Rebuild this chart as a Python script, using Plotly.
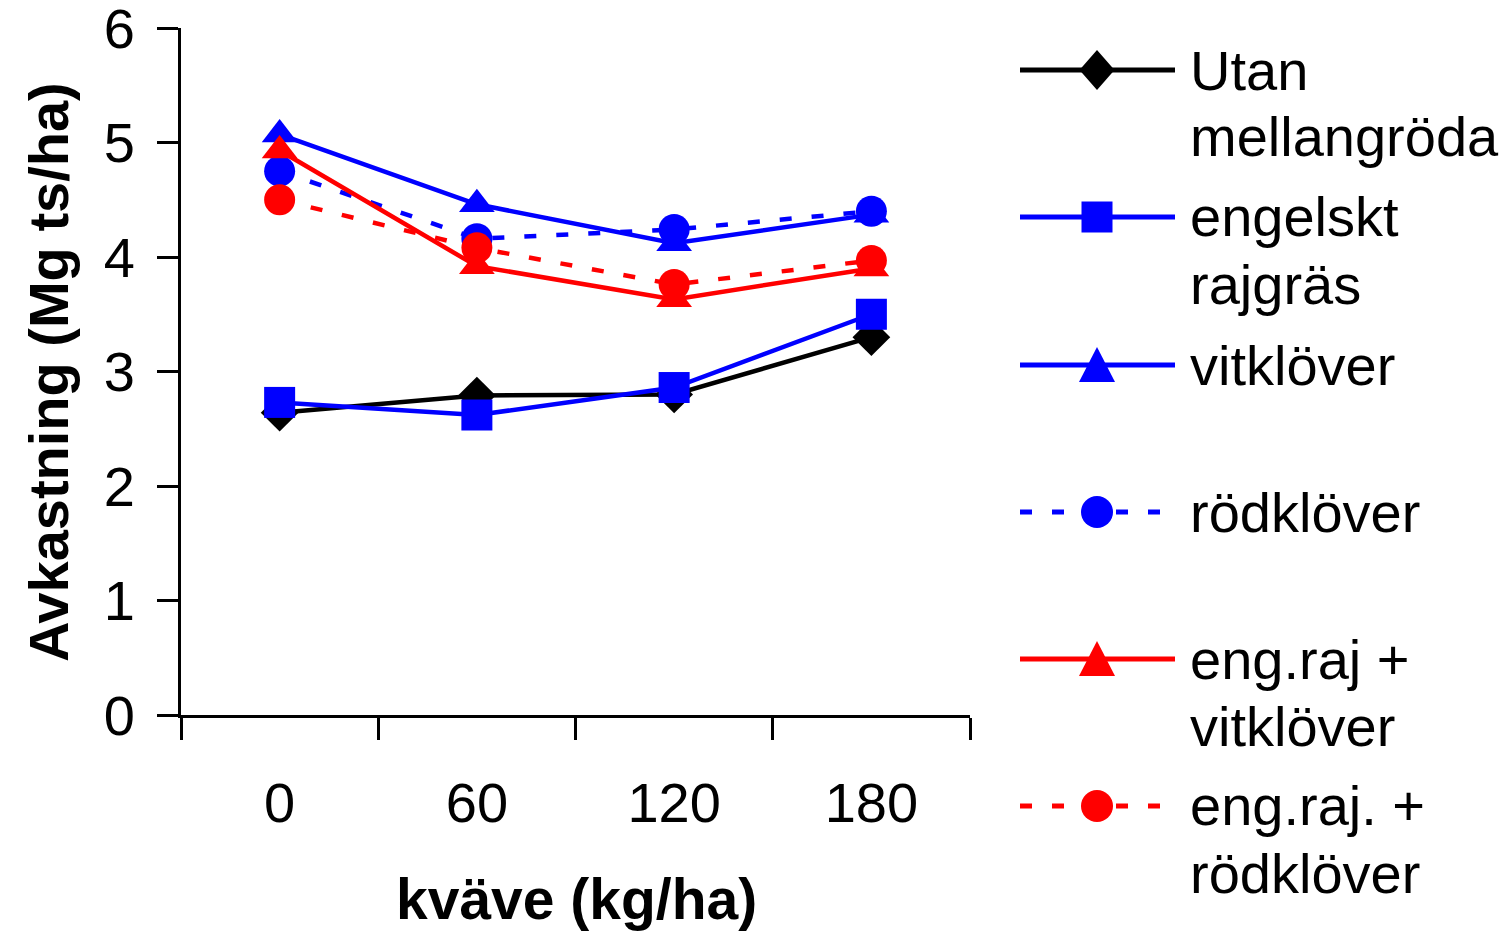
import plotly.graph_objects as go

# ---------------- data ----------------
kvave = ["0", "60", "120", "180"]
utan = [2.64, 2.79, 2.80, 3.30]
engelskt = [2.73, 2.62, 2.86, 3.50]
vitklover = [5.07, 4.46, 4.12, 4.37]
rodklover = [4.75, 4.16, 4.24, 4.40]
engraj_vit = [4.93, 3.92, 3.63, 3.90]
engraj_rod = [4.50, 4.08, 3.76, 3.97]

names = ["Utan<br>mellangröda", "engelskt<br>rajgräs", "vitklöver", "rödklöver",
         "eng.raj +<br>vitklöver", "eng.raj. +<br>rödklöver"]
series = [utan, engelskt, vitklover, rodklover, engraj_vit, engraj_rod]
colors = ["#000000", "#0000FF", "#0000FF", "#0000FF", "#FF0000", "#FF0000"]
symbols = ["diamond", "square", "triangle-up", "circle", "triangle-up", "circle"]
sizes = [29, 31, 31, 31, 31, 31]
dashes = ["solid", "solid", "solid", "12px,20px", "solid", "12px,20px"]

FONT = "Liberation Sans, Arial, sans-serif"
W, H = 1501, 932
L, R, T, B = 181, 970, 28, 715  # plot area in pixels

def px(x):
    return (x - L) / (R - L)

def py(y):
    return (B - y) / (B - T)

fig = go.Figure()
for name, vals, c, s, sz, d in zip(names, series, colors, symbols, sizes, dashes):
    fig.add_trace(go.Scatter(
        x=kvave, y=vals, mode="lines+markers", name=name, showlegend=False,
        line=dict(color=c, width=4.5, dash=d),
        marker=dict(symbol=s, size=sz, color=c, line=dict(width=0)),
    ))

# ---------------- custom legend (Excel-like) ----------------
shapes = []
annotations = []
row_y = [70, 217, 365, 512, 659, 806]
line_x0, line_x1, mark_x, text_x = 1020, 1175, 1097, 1188
for i, (name, c, s, d) in enumerate(zip(names, colors, symbols, dashes)):
    yy = row_y[i]
    shapes.append(dict(type="line", xref="paper", yref="paper",
                       x0=px(line_x0), x1=px(line_x1), y0=py(yy), y1=py(yy),
                       line=dict(color=c, width=5, dash=d)))
    common = dict(xref="paper", yref="paper", xsizemode="pixel", ysizemode="pixel",
                  xanchor=px(mark_x), yanchor=py(yy), fillcolor=c,
                  line=dict(width=0))
    if s == "diamond":
        shapes.append(dict(type="path", path="M -17.5 0 L 0 20 L 17.5 0 L 0 -20 Z", **common))
    elif s == "square":
        shapes.append(dict(type="rect", x0=-15.5, x1=15.5, y0=-15.5, y1=15.5, **common))
    elif s == "triangle-up":
        shapes.append(dict(type="path", path="M -18 -17 L 18 -17 L 0 18 Z", **common))
    else:
        shapes.append(dict(type="circle", x0=-16, x1=16, y0=-16, y1=16, **common))
    for j, part in enumerate(name.split("<br>")):
        annotations.append(dict(text=part, xref="paper", yref="paper",
                                x=px(text_x), y=py(yy + 67 * j),
                                xanchor="left", yanchor="middle", showarrow=False,
                                font=dict(family=FONT, size=56, color="#000000")))

# axis titles
annotations.append(dict(text="<b>kväve (kg/ha)</b>", xref="paper", yref="paper",
                        x=px(576), y=py(899), xanchor="center", yanchor="middle",
                        showarrow=False, font=dict(family=FONT, size=57, color="#000000")))
annotations.append(dict(text="<b>Avkastning (Mg ts/ha)</b>", xref="paper", yref="paper",
                        x=px(48), y=py(372), xanchor="center", yanchor="middle",
                        textangle=-90, showarrow=False,
                        font=dict(family=FONT, size=56, color="#000000")))

fig.update_layout(
    width=W, height=H,
    margin=dict(l=L, r=W - R, t=T, b=H - B, pad=0, autoexpand=False),
    paper_bgcolor="white", plot_bgcolor="white",
    font=dict(family=FONT, size=56, color="#000000"),
    shapes=shapes, annotations=annotations,
    showlegend=False,
)
fig.update_xaxes(
    type="category", range=[-0.5, 3.5], tickson="boundaries", automargin=False,
    showline=True, linecolor="black", linewidth=3,
    ticks="outside", ticklen=22, tickwidth=3, tickcolor="black",
    showgrid=False, zeroline=False, ticklabelstandoff=37,
    ticklabeloverflow="allow",
    tickfont=dict(family=FONT, size=56, color="black"),
)
fig.update_yaxes(
    range=[0, 6], tickvals=[0, 1, 2, 3, 4, 5, 6], automargin=False,
    showline=True, linecolor="black", linewidth=3,
    ticks="outside", ticklen=21, tickwidth=3, tickcolor="black",
    showgrid=False, zeroline=False, ticklabelstandoff=11,
    ticklabeloverflow="allow",
    tickfont=dict(family=FONT, size=56, color="black"),
)

fig.write_html("out.html")
